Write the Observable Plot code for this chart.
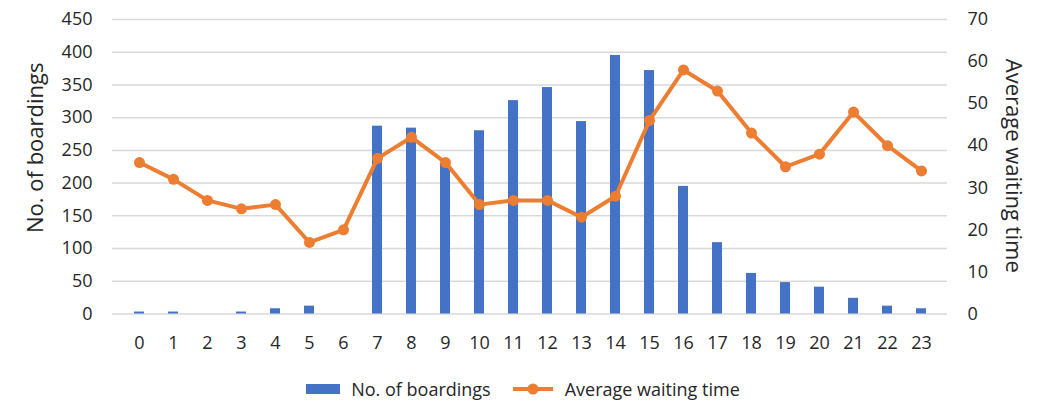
<!DOCTYPE html>
<html>
<head>
<meta charset="utf-8">
<script src="https://cdn.jsdelivr.net/npm/d3@7"></script>
<script src="https://cdn.jsdelivr.net/npm/@observablehq/plot@0.6"></script>
<style>
  body { margin: 0; background: #fff; font-family: "Open Sans", sans-serif; }
  #chart svg { display: block; }
  .legend { display: flex; justify-content: center; align-items: center; height: 36px; padding-top: 6px; color: #262626; font-size: 18px; }
  .legend .item { display: flex; align-items: center; margin: 0 11px; }
  .legend .swatch-bar { width: 34px; height: 10px; background: #4472C4; margin-right: 11px; }
  .legend svg { margin-right: 12px; }
</style>
</head>
<body>
<div id="chart"></div>
<div class="legend">
  <div class="item"><div class="swatch-bar"></div><span>No. of boardings</span></div>
  <div class="item">
    <svg width="40" height="14"><line x1="0" y1="7" x2="40" y2="7" stroke="#ED7D31" stroke-width="4"/><circle cx="20" cy="7" r="5.5" fill="#ED7D31"/></svg>
    <span>Average waiting time</span>
  </div>
</div>
<script>
// Hour of day (categories)
const hours = [0, 1, 2, 3, 4, 5, 6, 7, 8, 9, 10, 11, 12, 13, 14, 15, 16, 17, 18, 19, 20, 21, 22, 23];
// Number of boardings per hour (left axis)
const boardings = [3, 3, 0, 3, 8, 12, 0, 287, 284, 230, 280, 326, 346, 294, 395, 372, 195, 109, 62, 48, 41, 24, 12, 8];
// Average waiting time per hour (right axis)
const waiting = [36, 32, 27, 25, 26, 17, 20, 37, 42, 36, 26, 27, 27, 23, 28, 46, 58, 53, 43, 35, 38, 48, 40, 34];
// Axis ticks
const leftTicks = [0, 50, 100, 150, 200, 250, 300, 350, 400, 450];
const rightTicks = [0, 10, 20, 30, 40, 50, 60, 70];

const leftMax = 450, rightMax = 70;
const k = leftMax / rightMax; // right-axis units -> left-axis units

const data = hours.map((h, i) => ({hour: h, boardings: boardings[i], waiting: waiting[i]}));

const blue = "#4472C4", orange = "#ED7D31";

const chart = Plot.plot({
  width: 1046,
  height: 365,
  marginTop: 19,
  marginBottom: 51.5,
  marginLeft: 112,
  marginRight: 99,
  style: {fontFamily: "Open Sans, sans-serif", fontSize: "18px", color: "#262626", background: "white"},
  x: {domain: hours, type: "band", paddingInner: 0.71, paddingOuter: 0.355},
  y: {domain: [0, leftMax]},
  marks: [
    Plot.gridY(leftTicks, {stroke: "#d9d9d9", strokeOpacity: 1, strokeWidth: 1.5}),
    Plot.barY(data, {x: "hour", y: "boardings", fill: blue}),
    Plot.line(data, {x: "hour", y: d => d.waiting * k, stroke: orange, strokeWidth: 4, strokeLinejoin: "round"}),
    Plot.dot(data, {x: "hour", y: d => d.waiting * k, r: 5.5, fill: orange}),
    Plot.axisX({tickSize: 0, tickPadding: 22, label: null}),
    Plot.axisY(leftTicks, {anchor: "left", tickSize: 0, tickPadding: 20, label: null}),
    Plot.axisY(rightTicks.map(v => v * k), {anchor: "right", tickSize: 0, tickPadding: 20, label: null, tickFormat: d => Math.round(d / k)}),
    Plot.text(["No. of boardings"], {frameAnchor: "left", textAnchor: "middle", rotate: -90, dx: -77, dy: -19, fontSize: 22}),
    Plot.text(["Average waiting time"], {frameAnchor: "right", textAnchor: "middle", rotate: 90, dx: 66, dy: -1, fontSize: 22})
  ]
});
document.getElementById("chart").appendChild(chart);
</script>
</body>
</html>
